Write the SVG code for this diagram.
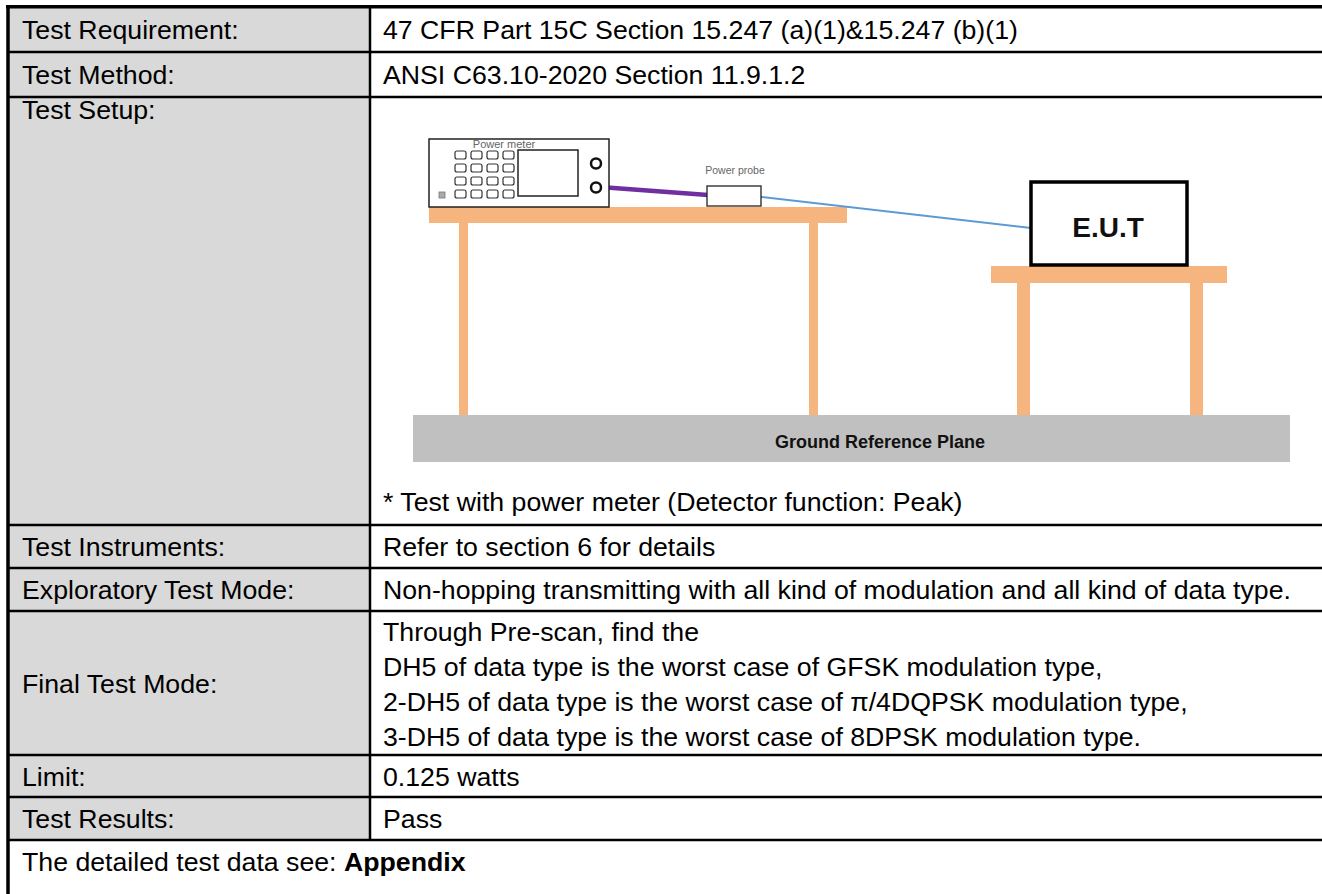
<svg xmlns="http://www.w3.org/2000/svg" width="1322" height="894" viewBox="0 0 1322 894">
<style>
.t{font-family:"Liberation Sans",Arial,sans-serif;font-size:26.7px;fill:#000}
.lab{fill:#d9d9d9}
.ln{stroke:#000;stroke-width:2.5;fill:none}
.ob{stroke:#000;stroke-width:3.5;fill:none}
.wood{fill:#f6b47f}
.dev{fill:#fff;stroke:#222;stroke-width:1.5}
.btn{fill:#fff;stroke:#333;stroke-width:1.2}
.small{font-family:"Liberation Sans",Arial,sans-serif;fill:#666}
.bold{font-family:"Liberation Sans",Arial,sans-serif;font-weight:bold;fill:#111}
</style>
<rect x="0" y="0" width="1322" height="894" fill="#fff"/>
<g id="label-column">
<rect class="lab" x="9" y="8" width="361" height="832"/>
</g>
<g id="grid">
<line class="ln" x1="7" y1="52" x2="1322" y2="52"/>
<line class="ln" x1="7" y1="97" x2="1322" y2="97"/>
<line class="ln" x1="7" y1="525" x2="1322" y2="525"/>
<line class="ln" x1="7" y1="568" x2="1322" y2="568"/>
<line class="ln" x1="7" y1="611" x2="1322" y2="611"/>
<line class="ln" x1="7" y1="755" x2="1322" y2="755"/>
<line class="ln" x1="7" y1="797" x2="1322" y2="797"/>
<line class="ln" x1="7" y1="840" x2="1322" y2="840"/>
<line class="ln" x1="370" y1="7" x2="370" y2="840"/>
<line class="ob" x1="6" y1="6.7" x2="1322" y2="6.7"/>
<line class="ob" x1="8" y1="5" x2="8" y2="894"/>
</g>
<g id="row-requirement">
<text class="t" x="22" y="39">Test Requirement:</text>
<text class="t" x="383" y="39">47 CFR Part 15C Section 15.247 (a)(1)&amp;15.247 (b)(1)</text>
</g>
<g id="row-method">
<text class="t" x="22" y="84">Test Method:</text>
<text class="t" x="383" y="84">ANSI C63.10-2020 Section 11.9.1.2</text>
</g>
<g id="row-setup">
<text class="t" x="22" y="119">Test Setup:</text>
<text class="t" x="383" y="511">* Test with power meter (Detector function: Peak)</text>
</g>
<g id="ground-plane">
<rect x="413" y="415" width="877" height="47" fill="#c0c0c0"/>
<text class="bold" x="880" y="448" font-size="18" text-anchor="middle">Ground Reference Plane</text>
</g>
<g id="table-left">
<rect class="wood" x="429" y="207" width="418" height="16"/>
<rect class="wood" x="459" y="223" width="9" height="192"/>
<rect class="wood" x="809" y="223" width="9" height="192"/>
</g>
<g id="table-right">
<rect class="wood" x="991" y="266" width="236" height="17"/>
<rect class="wood" x="1017" y="283" width="13" height="132"/>
<rect class="wood" x="1190" y="283" width="13" height="132"/>
</g>
<g id="connectors">
<line x1="600" y1="187" x2="708" y2="195" stroke="#6f2fa0" stroke-width="4.5"/>
<line x1="761" y1="197" x2="1031" y2="228" stroke="#5b9bd5" stroke-width="2"/>
</g>
<g id="power-meter">
<rect class="dev" x="429" y="139" width="180" height="68"/>
<text class="small" x="504" y="148" font-size="11" text-anchor="middle">Power meter</text>
<g>
<rect class="btn" x="455" y="151" width="11" height="8" rx="2"/><rect class="btn" x="471" y="151" width="11" height="8" rx="2"/><rect class="btn" x="487" y="151" width="11" height="8" rx="2"/><rect class="btn" x="503" y="151" width="11" height="8" rx="2"/>
<rect class="btn" x="455" y="164" width="11" height="8" rx="2"/><rect class="btn" x="471" y="164" width="11" height="8" rx="2"/><rect class="btn" x="487" y="164" width="11" height="8" rx="2"/><rect class="btn" x="503" y="164" width="11" height="8" rx="2"/>
<rect class="btn" x="455" y="177" width="11" height="8" rx="2"/><rect class="btn" x="471" y="177" width="11" height="8" rx="2"/><rect class="btn" x="487" y="177" width="11" height="8" rx="2"/><rect class="btn" x="503" y="177" width="11" height="8" rx="2"/>
<rect class="btn" x="455" y="190" width="11" height="8" rx="2"/><rect class="btn" x="471" y="190" width="11" height="8" rx="2"/><rect class="btn" x="487" y="190" width="11" height="8" rx="2"/><rect class="btn" x="503" y="190" width="11" height="8" rx="2"/>
</g>
<rect x="439" y="192" width="6" height="6" fill="#aaa" stroke="#777" stroke-width="0.8"/>
<rect class="dev" x="518" y="150" width="60" height="46"/>
<circle cx="596" cy="163.5" r="5" fill="#fff" stroke="#111" stroke-width="2.5"/>
<circle cx="596" cy="187.5" r="5" fill="#fff" stroke="#111" stroke-width="2.5"/>
</g>
<g id="power-probe">
<rect x="707" y="186" width="54" height="20" fill="#fff" stroke="#222" stroke-width="1.3"/>
<text class="small" x="735" y="174" font-size="10.5" text-anchor="middle">Power probe</text>
</g>
<g id="eut">
<rect x="1031" y="182" width="156" height="83" fill="#fff" stroke="#000" stroke-width="3.5"/>
<text class="bold" x="1108" y="237" font-size="28" text-anchor="middle" fill="#000">E.U.T</text>
</g>
<g id="row-instruments">
<text class="t" x="22" y="556">Test Instruments:</text>
<text class="t" x="383" y="556">Refer to section 6 for details</text>
</g>
<g id="row-exploratory">
<text class="t" x="22" y="599">Exploratory Test Mode:</text>
<text class="t" x="383" y="599">Non-hopping transmitting with all kind of modulation and all kind of data type.</text>
</g>
<g id="row-final">
<text class="t" x="22" y="693">Final Test Mode:</text>
<text class="t" x="383" y="641">Through Pre-scan, find the</text>
<text class="t" x="383" y="676">DH5 of data type is the worst case of GFSK modulation type,</text>
<text class="t" x="383" y="711">2-DH5 of data type is the worst case of π/4DQPSK modulation type,</text>
<text class="t" x="383" y="746">3-DH5 of data type is the worst case of 8DPSK modulation type.</text>
</g>
<g id="row-limit">
<text class="t" x="22" y="786">Limit:</text>
<text class="t" x="383" y="786">0.125 watts</text>
</g>
<g id="row-results">
<text class="t" x="22" y="828">Test Results:</text>
<text class="t" x="383" y="828">Pass</text>
</g>
<g id="row-appendix">
<text class="t" x="22" y="871">The detailed test data see: <tspan font-weight="bold">Appendix</tspan></text>
</g>
</svg>
